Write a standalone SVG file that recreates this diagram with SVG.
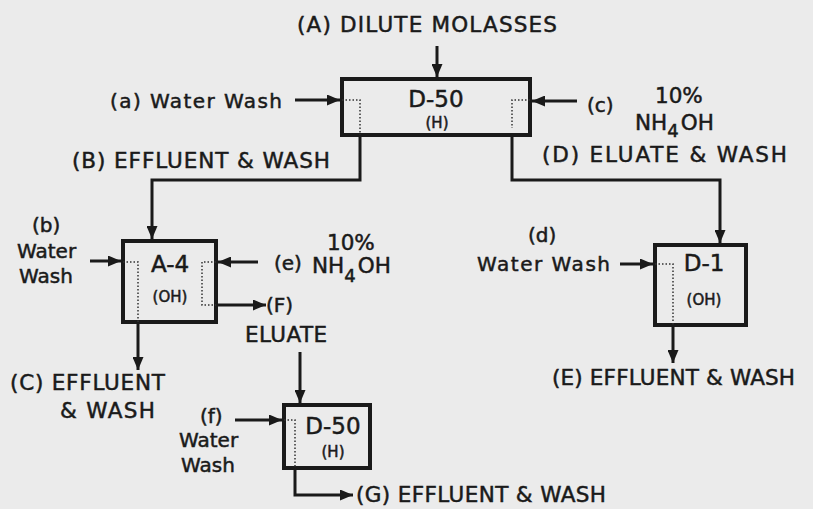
<svg xmlns="http://www.w3.org/2000/svg" width="813" height="509" viewBox="0 0 813 509">
<style>
.t{font-family:"DejaVu Sans","Liberation Sans",sans-serif;fill:#1a1a1a;stroke:#1a1a1a;stroke-width:0.5;font-size:20px}
.big{font-size:21.5px}
.lbl{font-size:23px;text-anchor:middle}
.sm{font-size:15px;text-anchor:middle}
.box{fill:none;stroke:#1a1a1a;stroke-width:4}
.con{fill:none;stroke:#1a1a1a;stroke-width:3}
.dot{fill:none;stroke:#333;stroke-width:1.5;stroke-dasharray:1.5 2}
</style>
<defs>
<marker id="ah" markerUnits="userSpaceOnUse" markerWidth="13" markerHeight="11" refX="13" refY="5.5" orient="auto">
<path d="M0,0 L13,5.5 L0,11 z" fill="#1a1a1a"/>
</marker>
</defs>
<rect width="813" height="509" fill="#ebebeb"/>

<g id="connectors">
<line class="con" x1="437" y1="46" x2="437" y2="77" marker-end="url(#ah)"/>
<line class="con" x1="295" y1="100" x2="340" y2="100" marker-end="url(#ah)"/>
<line class="con" x1="577" y1="101" x2="532" y2="101" marker-end="url(#ah)"/>
<path class="con" d="M360,137 V180 H152 V239" marker-end="url(#ah)"/>
<path class="con" d="M512,137 V180 H720 V243" marker-end="url(#ah)"/>
<line class="con" x1="90" y1="261" x2="121" y2="261" marker-end="url(#ah)"/>
<line class="con" x1="258" y1="262" x2="218" y2="262" marker-end="url(#ah)"/>
<line class="con" x1="218" y1="305" x2="266" y2="305" marker-end="url(#ah)"/>
<line class="con" x1="138" y1="324" x2="138" y2="370" marker-end="url(#ah)"/>
<line class="con" x1="300" y1="352" x2="300" y2="403" marker-end="url(#ah)"/>
<line class="con" x1="235" y1="420" x2="282" y2="420" marker-end="url(#ah)"/>
<path class="con" d="M295,470 V495 H353" marker-end="url(#ah)"/>
<line class="con" x1="620" y1="264" x2="653" y2="264" marker-end="url(#ah)"/>
<line class="con" x1="673" y1="327" x2="673" y2="363" marker-end="url(#ah)"/>
</g>

<g id="inputs-top">
<text class="t big" x="297" y="32" textLength="260">(A) DILUTE MOLASSES</text>
<text class="t" x="110" y="108" textLength="172">(a) Water Wash</text>
<text class="t" x="587" y="112">(c)</text>
<text class="t big" x="655" y="103">10%</text>
<text class="t big" x="635" y="130">NH<tspan font-size="18" dy="7">4</tspan><tspan dx="2" dy="-7">OH</tspan></text>
<text class="t big" x="72" y="168" textLength="258">(B) EFFLUENT &amp; WASH</text>
<text class="t big" x="542" y="162" textLength="245">(D) ELUATE &amp; WASH</text>
</g>

<g id="D-50-top">
<rect class="box" x="342" y="79" width="188" height="56"/>
<path class="dot" d="M342,100 H360 V135"/>
<path class="dot" d="M530,100 H512 V128"/>
<text class="t lbl" x="436" y="107" font-size="25">D-50</text>
<text class="t sm" x="437" y="128">(H)</text>
</g>

<g id="A-4">
<rect class="box" x="123" y="241" width="93" height="81"/>
<path class="dot" d="M123,262 H138 V322"/>
<path class="dot" d="M216,262 H202 V305 H216"/>
<text class="t lbl" x="170" y="272">A-4</text>
<text class="t sm" x="170" y="302" font-size="16">(OH)</text>
<text class="t" x="274" y="270">(e)</text>
<text class="t big" x="327" y="250">10%</text>
<text class="t big" x="312" y="273">NH<tspan font-size="18" dy="9">4</tspan><tspan dx="2" dy="-9">OH</tspan></text>
<text class="t" x="266" y="312">(F)</text>
<text class="t big" x="245" y="342" textLength="82">ELUATE</text>
<text class="t" x="32" y="232">(b)</text>
<text class="t" x="17" y="258">Water</text>
<text class="t" x="19" y="283">Wash</text>
<text class="t big" x="10" y="390" textLength="155">(C) EFFLUENT</text>
<text class="t big" x="60" y="418" textLength="95">&amp; WASH</text>
</g>

<g id="D-50-bottom">
<rect class="box" x="284" y="405" width="86" height="63"/>
<path class="dot" d="M284,420 H295 V468"/>
<text class="t lbl" x="333" y="434">D-50</text>
<text class="t sm" x="333" y="457" font-size="14">(H)</text>
<text class="t" x="200" y="423">(f)</text>
<text class="t" x="179" y="447">Water</text>
<text class="t" x="181" y="472">Wash</text>
<text class="t big" x="356" y="502" textLength="250">(G) EFFLUENT &amp; WASH</text>
</g>

<g id="D-1">
<rect class="box" x="655" y="245" width="91" height="80"/>
<path class="dot" d="M655,264 H673 V325"/>
<text class="t lbl" x="704" y="271">D-1</text>
<text class="t sm" x="704" y="305" font-size="16">(OH)</text>
<text class="t" x="528" y="242">(d)</text>
<text class="t" x="477" y="271" textLength="133">Water Wash</text>
<text class="t big" x="552" y="385" textLength="243">(E) EFFLUENT &amp; WASH</text>
</g>
</svg>
